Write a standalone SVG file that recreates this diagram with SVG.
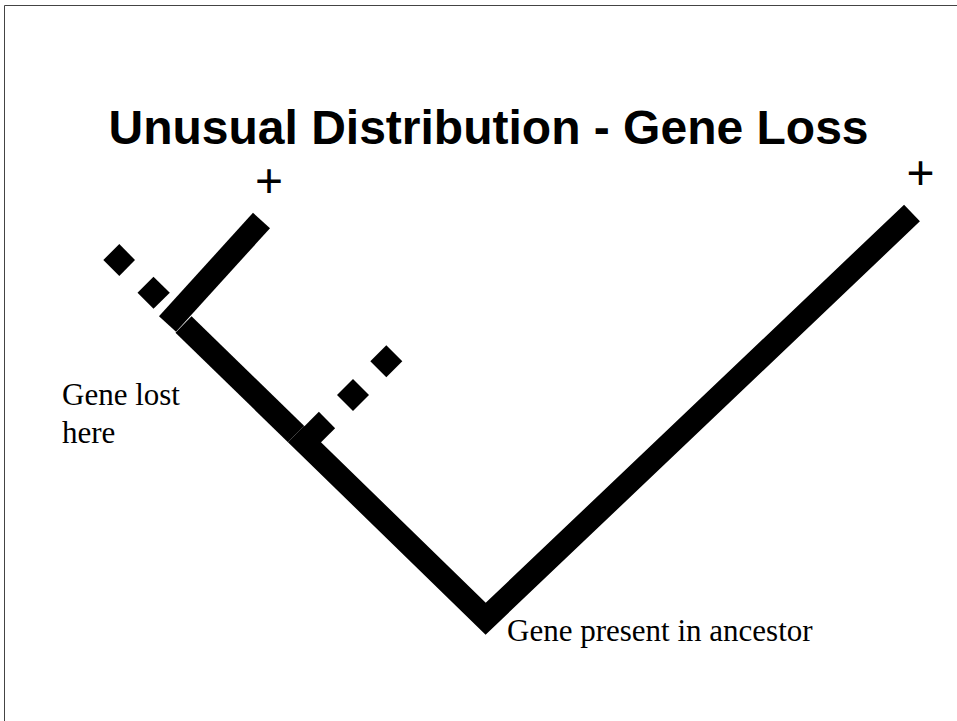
<svg xmlns="http://www.w3.org/2000/svg" width="957" height="721" viewBox="0 0 957 721">
  <style>
    .title { font-family: "Liberation Sans", Arial, sans-serif; font-weight: bold; font-size: 48px; fill: #000; }
    .plus { font-family: "Liberation Sans", Arial, sans-serif; font-size: 48px; fill: #000; }
    .label { font-family: "Liberation Serif", "Times New Roman", serif; font-size: 31px; fill: #000; }
    .branch { fill: none; stroke: #000; stroke-width: 23; stroke-linecap: butt; stroke-linejoin: miter; stroke-miterlimit: 10; }
    .dot { fill: #000; }
  </style>
  <rect x="0" y="0" width="957" height="721" fill="#fff"/>
  <path d="M4.5,721 V5.5 H957" fill="none" stroke="#444" stroke-width="1"/>

  <g id="title">
    <text class="title" x="488.5" y="144" text-anchor="middle">Unusual Distribution - Gene Loss</text>
  </g>

  <g id="connectors">
    <line class="branch" x1="183.5" y1="324.5" x2="296" y2="434"/>
    <polyline class="branch" points="296,434 485.7,618.7 912,213"/>
    <line class="branch" x1="167.5" y1="324" x2="261.5" y2="220.5"/>
    <line class="branch" x1="304.6" y1="442.4" x2="327" y2="420"/>
    <polygon class="dot" points="119.3,244 135,260 119.3,276 103.3,260"/>
    <polygon class="dot" points="153.5,276.8 169.8,292.8 153.5,308.8 137.5,292.8"/>
    <polygon class="dot" points="353,379 369,395 353,411 337,395"/>
    <polygon class="dot" points="386.3,345.3 402.3,361.3 386.3,377.3 370.3,361.3"/>
  </g>

  <g id="leaf-left">
    <text class="plus" x="269" y="197" text-anchor="middle">+</text>
  </g>
  <g id="leaf-right">
    <text class="plus" x="920.5" y="189" text-anchor="middle">+</text>
  </g>
  <g id="label-lost">
    <text class="label" x="62" y="405">Gene lost</text>
    <text class="label" x="62" y="443">here</text>
  </g>
  <g id="label-ancestor">
    <text class="label" x="507" y="641">Gene present in ancestor</text>
  </g>
</svg>
